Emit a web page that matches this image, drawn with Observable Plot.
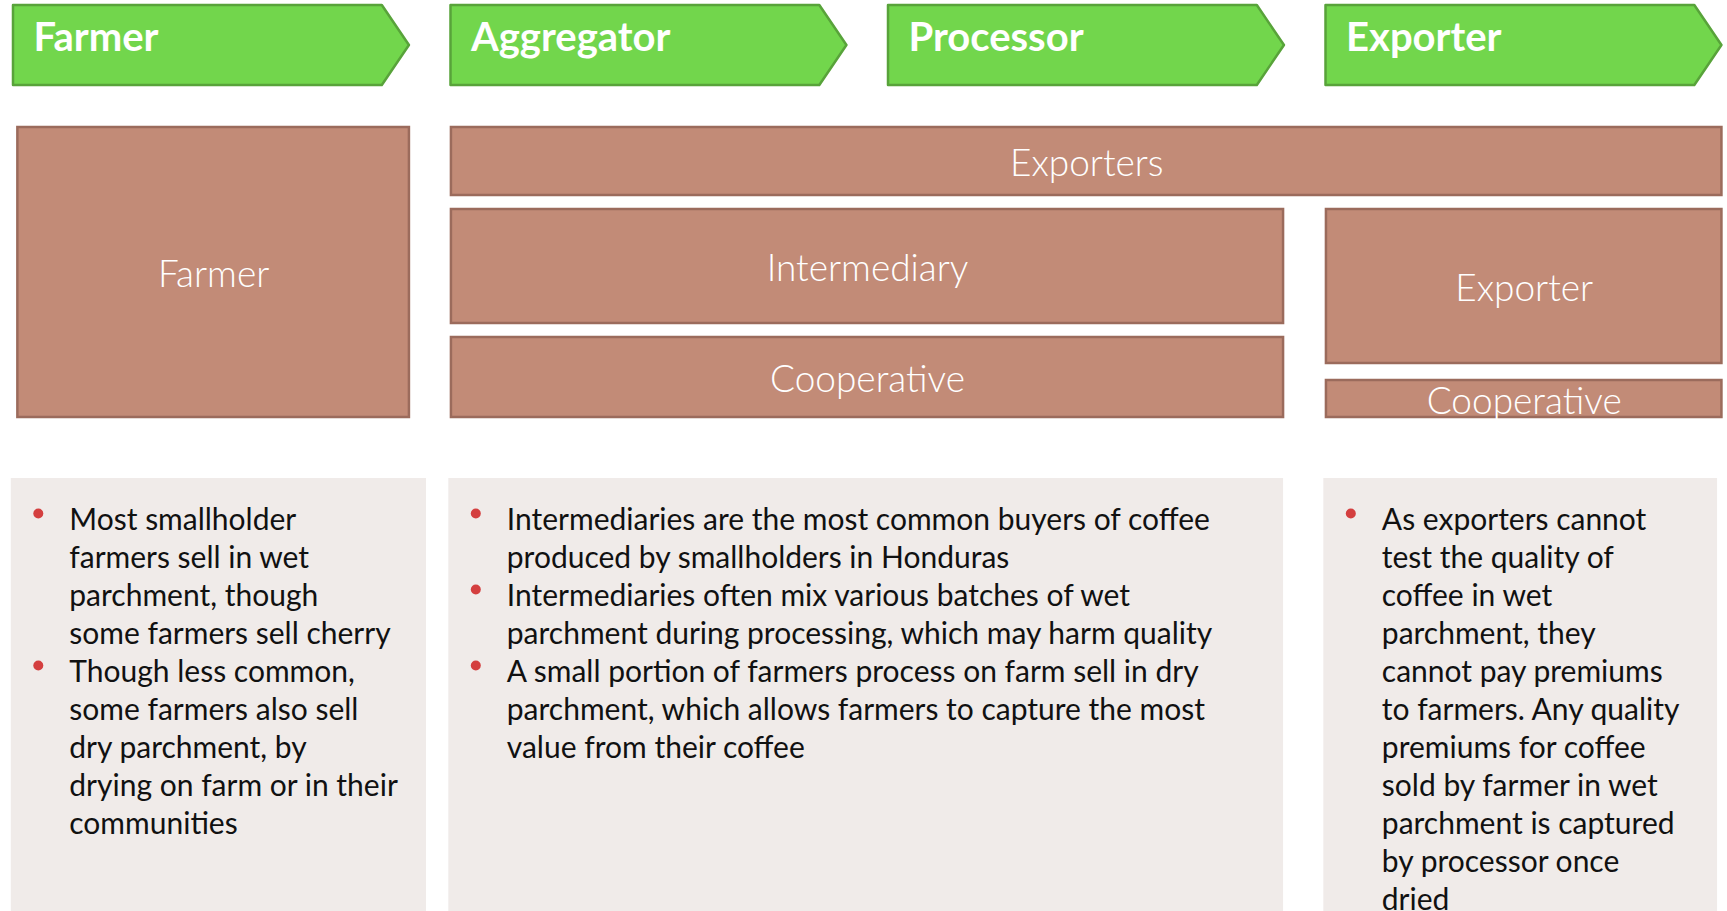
<!DOCTYPE html>
<html><head><meta charset="utf-8">
<script src="https://cdn.jsdelivr.net/npm/d3@7"></script>
<script src="https://cdn.jsdelivr.net/npm/@observablehq/plot@0.6"></script>
<style>html,body{margin:0;padding:0;overflow:hidden;background:#fff}</style>
</head><body><div id="chart"></div>
<script>
// ---- data ----
const stages = ["Farmer", "Aggregator", "Processor", "Exporter"];
const stageIndex = [0, 1, 2, 3];

const actorLabels = ["Farmer", "Exporters", "Intermediary", "Cooperative", "Exporter", "Cooperative"];
const actorFirstStage = [0, 1, 1, 1, 3, 3];
const actorLastStage = [0, 3, 2, 2, 3, 3];
const actorTop = [127, 127, 209, 337, 209, 380];
const actorBottom = [417, 195, 323, 417, 363, 417];

const panelFirstStage = [0, 1, 3];
const panelLastStage = [0, 2, 3];

const notesFarmer = [
  ["Most smallholder", "farmers sell in wet", "parchment, though", "some farmers sell cherry"],
  ["Though less common,", "some farmers also sell", "dry parchment, by", "drying on farm or in their", "communities"]
];
const notesAggregator = [
  ["Intermediaries are the most common buyers of coffee", "produced by smallholders in Honduras"],
  ["Intermediaries often mix various batches of wet", "parchment during processing, which may harm quality"],
  ["A small portion of farmers process on farm sell in dry", "parchment, which allows farmers to capture the most", "value from their coffee"]
];
const notesExporter = [
  ["As exporters cannot", "test the quality of", "coffee in wet", "parchment, they", "cannot pay premiums", "to farmers. Any quality", "premiums for coffee", "sold by farmer in wet", "parchment is captured", "by processor once", "dried"]
];
const notes = [notesFarmer, notesAggregator, notesExporter];

// ---- layout (stage units on x, layout units on y) ----
const W = 1727, H = 911;
const chevBody = 0.843, chevTip = 0.905, chevTop = 5, chevBottom = 85;
const panelTop = 478, firstBaseline = 529, lineStep = 38;
const panelLeftPad = -0.005;
const panelRightExt = [0.944, 0.903, 0.895];

const chevrons = stageIndex.flatMap(s => [
  {s, x: s, y1: chevTop, y2: chevBottom},
  {s, x: s + chevBody, y1: chevTop, y2: chevBottom},
  {s, x: s + chevTip, y1: (chevTop + chevBottom) / 2, y2: (chevTop + chevBottom) / 2}
]);
const stageLabels = stages.map((name, i) => ({name, x: stageIndex[i]}));

const actors = actorLabels.map((label, i) => ({
  label,
  x1: actorFirstStage[i] + (i === 0 ? 0.01 : 0.001),
  x2: actorLastStage[i] + chevTip - (actorLastStage[i] === 2 ? 0.002 : 0),
  y1: actorTop[i], y2: actorBottom[i]
}));

const panels = panelFirstStage.map((f, i) => ({
  x1: f + panelLeftPad, x2: panelLastStage[i] + panelRightExt[i], y1: panelTop, y2: H + 10
}));

const lines = [], bullets = [];
notes.forEach((col, ci) => {
  let li = 0;
  col.forEach(b => {
    bullets.push({x: panels[ci].x1, y: firstBaseline + li * lineStep});
    b.forEach(t => { lines.push({x: panels[ci].x1, y: firstBaseline + li * lineStep, text: t}); li++; });
  });
});

const green = "#72d64c", greenStroke = "#58a33a";
const brown = "#c28b77", brownStroke = "#9b6b5c";

const chart = Plot.plot({
  width: W, height: H,
  margin: 0,
  x: {domain: [-0.0297, 3.9177], range: [0, W], axis: null},
  y: {domain: [0, H], range: [0, H], axis: null},
  style: {background: "#ffffff"},
  marks: [
    Plot.rect(panels, {x1: "x1", x2: "x2", y1: "y1", y2: "y2", fill: "#f0ebe9"}),
    Plot.rect(actors, {x1: "x1", x2: "x2", y1: "y1", y2: "y2", fill: brown, stroke: brownStroke, strokeWidth: 2.5}),
    Plot.text(actors, {x: d => (d.x1 + d.x2) / 2, y: d => (d.y1 + d.y2) / 2, text: "label", dy: 3,
      fill: "#ffffff", fontSize: 37, fontFamily: "Lato", fontWeight: 300, lineAnchor: "middle"}),
    Plot.areaY(chevrons, {x: "x", y1: "y1", y2: "y2", z: "s", fill: green, stroke: greenStroke, strokeWidth: 2.5, curve: "linear"}),
    Plot.text(stageLabels, {x: "x", y: 38, text: "name", dx: 20, textAnchor: "start",
      fill: "#ffffff", fontSize: 40, fontWeight: "bold", fontFamily: "Lato"}),
    Plot.dot(bullets, {x: "x", y: "y", dx: 27, dy: -16, r: 5, fill: "#d43f3f", stroke: null}),
    Plot.text(lines, {x: "x", y: "y", text: "text", dx: 58, textAnchor: "start", lineAnchor: "bottom",
      fill: "#111111", fontSize: 30, fontFamily: "Lato"})
  ]
});
document.getElementById("chart").appendChild(chart);
</script></body></html>
